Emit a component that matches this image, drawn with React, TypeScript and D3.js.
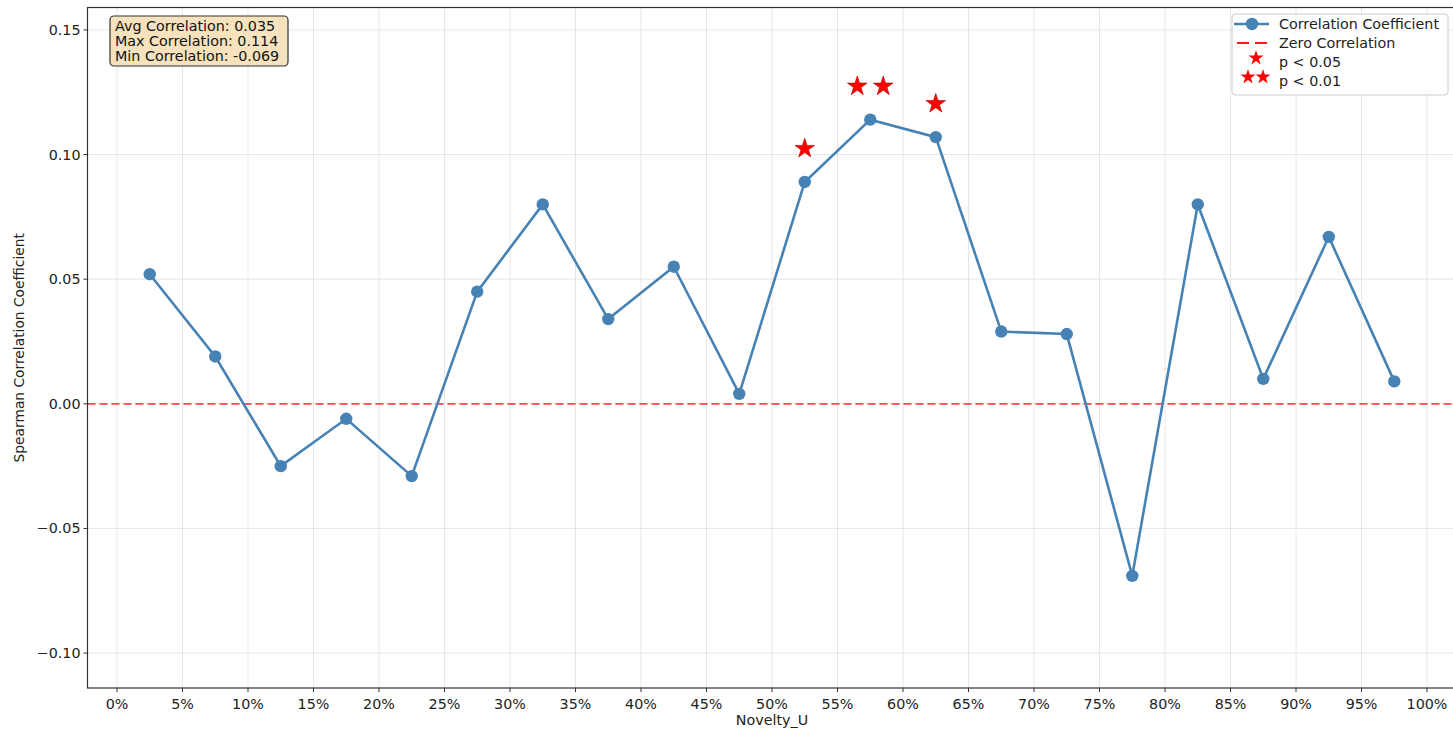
import React, { useRef, useEffect } from 'react';
import * as d3 from 'd3';

// bin centers (percent of Novelty_U)
const binCenters = [2.5, 7.5, 12.5, 17.5, 22.5, 27.5, 32.5, 37.5, 42.5, 47.5, 52.5, 57.5, 62.5, 67.5, 72.5, 77.5, 82.5, 87.5, 92.5, 97.5];
const correlations = [0.052, 0.019, -0.025, -0.006, -0.029, 0.045, 0.080, 0.034, 0.055, 0.004, 0.089, 0.114, 0.107, 0.029, 0.028, -0.069, 0.080, 0.010, 0.067, 0.009];
// significance level: 0 none, 1 p<0.05, 2 p<0.01
const significance = [0, 0, 0, 0, 0, 0, 0, 0, 0, 0, 1, 2, 1, 0, 0, 0, 0, 0, 0, 0];

const xTicks = d3.range(0, 101, 5);
const yTicks = [-0.10, -0.05, 0.0, 0.05, 0.10, 0.15];
const statLines = ['Avg Correlation: 0.035', 'Max Correlation: 0.114', 'Min Correlation: -0.069'];
const legendLabels = ['Correlation Coefficient', 'Zero Correlation', 'p < 0.05', 'p < 0.01'];

const W = 1453;
const H = 733;
const FONT = 'DejaVu Sans, sans-serif';
const FS = 14.3;
const BLUE = '#4682b4';

const App: React.FC = () => {
    const svgRef = useRef<SVGSVGElement>(null);

    useEffect(() => {
        if (!svgRef.current) return;
        const svg = d3.select(svgRef.current);
        svg.selectAll('*').remove();

        const plot = { left: 87.5, right: 1456.5, top: 7.5, bottom: 688 };

        const x = d3.scaleLinear().domain([-2.25, 102.25]).range([plot.left, plot.right]);
        const y = d3.scaleLinear().domain([-0.114, 0.159]).range([plot.bottom, plot.top]);

        // grid
        const grid = svg.append('g');
        xTicks.forEach(t => {
            grid.append('line')
                .attr('x1', x(t)).attr('x2', x(t))
                .attr('y1', plot.top).attr('y2', plot.bottom)
                .attr('stroke', '#b0b0b0').attr('stroke-opacity', 0.3).attr('stroke-width', 1);
        });
        yTicks.forEach(t => {
            grid.append('line')
                .attr('x1', plot.left).attr('x2', plot.right)
                .attr('y1', y(t)).attr('y2', y(t))
                .attr('stroke', '#b0b0b0').attr('stroke-opacity', 0.3).attr('stroke-width', 1);
        });

        // zero line
        svg.append('line')
            .attr('x1', plot.left).attr('x2', plot.right)
            .attr('y1', y(0)).attr('y2', y(0))
            .attr('stroke', 'red').attr('stroke-opacity', 0.7)
            .attr('stroke-width', 1.8).attr('stroke-dasharray', '8,4');

        // correlation line
        const line = d3.line<number>()
            .x((_, i) => x(binCenters[i]))
            .y(d => y(d));
        svg.append('path')
            .datum(correlations)
            .attr('d', line)
            .attr('fill', 'none')
            .attr('stroke', BLUE)
            .attr('stroke-width', 2.6);

        svg.append('g').selectAll('circle')
            .data(correlations)
            .join('circle')
            .attr('cx', (_, i) => x(binCenters[i]))
            .attr('cy', d => y(d))
            .attr('r', 6.2)
            .attr('fill', BLUE);

        // significance stars
        const star = d3.symbol().type(d3.symbolStar).size(120);
        const starOffset = 0.014;
        const starGap = 13;
        correlations.forEach((v, i) => {
            const level = significance[i];
            if (level === 0) return;
            const cx = x(binCenters[i]);
            const cy = y(v + starOffset);
            const xs = level === 1 ? [cx] : [cx - starGap, cx + starGap];
            xs.forEach(sx => {
                svg.append('path')
                    .attr('d', star())
                    .attr('transform', `translate(${sx},${cy + 1.5})`)
                    .attr('fill', 'red')
                    .attr('stroke', '#b00000')
                    .attr('stroke-width', 0.6);
            });
        });

        // spines (right spine falls outside the picture)
        svg.append('rect')
            .attr('x', plot.left).attr('y', plot.top)
            .attr('width', plot.right - plot.left)
            .attr('height', plot.bottom - plot.top)
            .attr('fill', 'none').attr('stroke', '#333').attr('stroke-width', 1.2);

        // x axis
        const xAxis = svg.append('g');
        xTicks.forEach(t => {
            xAxis.append('line')
                .attr('x1', x(t)).attr('x2', x(t))
                .attr('y1', plot.bottom).attr('y2', plot.bottom + 4)
                .attr('stroke', '#333').attr('stroke-width', 1);
            xAxis.append('text')
                .attr('x', x(t)).attr('y', plot.bottom + 16)
                .attr('dy', '0.35em')
                .attr('text-anchor', 'middle')
                .attr('font-family', FONT).attr('font-size', FS)
                .attr('fill', '#222')
                .text(`${t}%`);
        });
        svg.append('text')
            .attr('x', (plot.left + plot.right) / 2).attr('y', 720)
            .attr('dy', '0.35em')
            .attr('text-anchor', 'middle')
            .attr('font-family', FONT).attr('font-size', FS)
            .attr('fill', '#222')
            .text('Novelty_U');

        // y axis
        const yAxis = svg.append('g');
        yTicks.forEach(t => {
            yAxis.append('line')
                .attr('x1', plot.left - 4).attr('x2', plot.left)
                .attr('y1', y(t)).attr('y2', y(t))
                .attr('stroke', '#333').attr('stroke-width', 1);
            yAxis.append('text')
                .attr('x', plot.left - 7).attr('y', y(t))
                .attr('dy', '0.35em')
                .attr('text-anchor', 'end')
                .attr('font-family', FONT).attr('font-size', FS)
                .attr('fill', '#222')
                .text(d3.format('.2f')(t).replace('-', '\u2212'));
        });
        svg.append('text')
            .attr('transform', `translate(19,${(plot.top + plot.bottom) / 2}) rotate(-90)`)
            .attr('dy', '0.35em')
            .attr('text-anchor', 'middle')
            .attr('font-family', FONT).attr('font-size', FS - 0.5)
            .attr('fill', '#222')
            .text('Spearman Correlation Coefficient');

        // stats box
        const stats = svg.append('g');
        stats.append('rect')
            .attr('x', 110).attr('y', 16).attr('width', 178).attr('height', 50)
            .attr('rx', 4)
            .attr('fill', '#f5deb3').attr('fill-opacity', 0.85)
            .attr('stroke', '#333').attr('stroke-width', 1.2);
        statLines.forEach((s, i) => {
            stats.append('text')
                .attr('x', 115).attr('y', 26 + i * 15)
                .attr('dy', '0.35em')
                .attr('font-family', FONT).attr('font-size', FS)
                .attr('fill', '#111')
                .text(s);
        });

        // legend
        const lg = svg.append('g');
        lg.append('rect')
            .attr('x', 1232).attr('y', 14).attr('width', 216).attr('height', 81)
            .attr('rx', 3)
            .attr('fill', 'white').attr('fill-opacity', 0.8)
            .attr('stroke', '#ccc').attr('stroke-width', 1);
        const rowY = [24, 43, 62, 81];
        lg.append('line')
            .attr('x1', 1234).attr('x2', 1269).attr('y1', rowY[0]).attr('y2', rowY[0])
            .attr('stroke', BLUE).attr('stroke-width', 2.6);
        lg.append('circle')
            .attr('cx', 1252).attr('cy', rowY[0]).attr('r', 6.2).attr('fill', BLUE);
        lg.append('line')
            .attr('x1', 1237).attr('x2', 1269).attr('y1', rowY[1]).attr('y2', rowY[1])
            .attr('stroke', 'red').attr('stroke-opacity', 0.9)
            .attr('stroke-width', 2).attr('stroke-dasharray', '12,6');
        lg.append('path')
            .attr('d', star.size(70)())
            .attr('transform', `translate(1256,${rowY[2] - 4})`)
            .attr('fill', 'red');
        [1248, 1263].forEach(sx => {
            lg.append('path')
                .attr('d', star.size(70)())
                .attr('transform', `translate(${sx},${rowY[3] - 4})`)
                .attr('fill', 'red');
        });
        legendLabels.forEach((l, i) => {
            lg.append('text')
                .attr('x', 1279).attr('y', rowY[i])
                .attr('dy', '0.35em')
                .attr('font-family', FONT).attr('font-size', FS)
                .attr('fill', '#222')
                .text(l);
        });
    }, []);

    return (
        <div style={{ position: 'absolute', left: 0, top: 0 }}>
            <svg ref={svgRef} width={W} height={H} style={{ display: 'block', background: 'white' }} />
        </div>
    );
};

export default App;
